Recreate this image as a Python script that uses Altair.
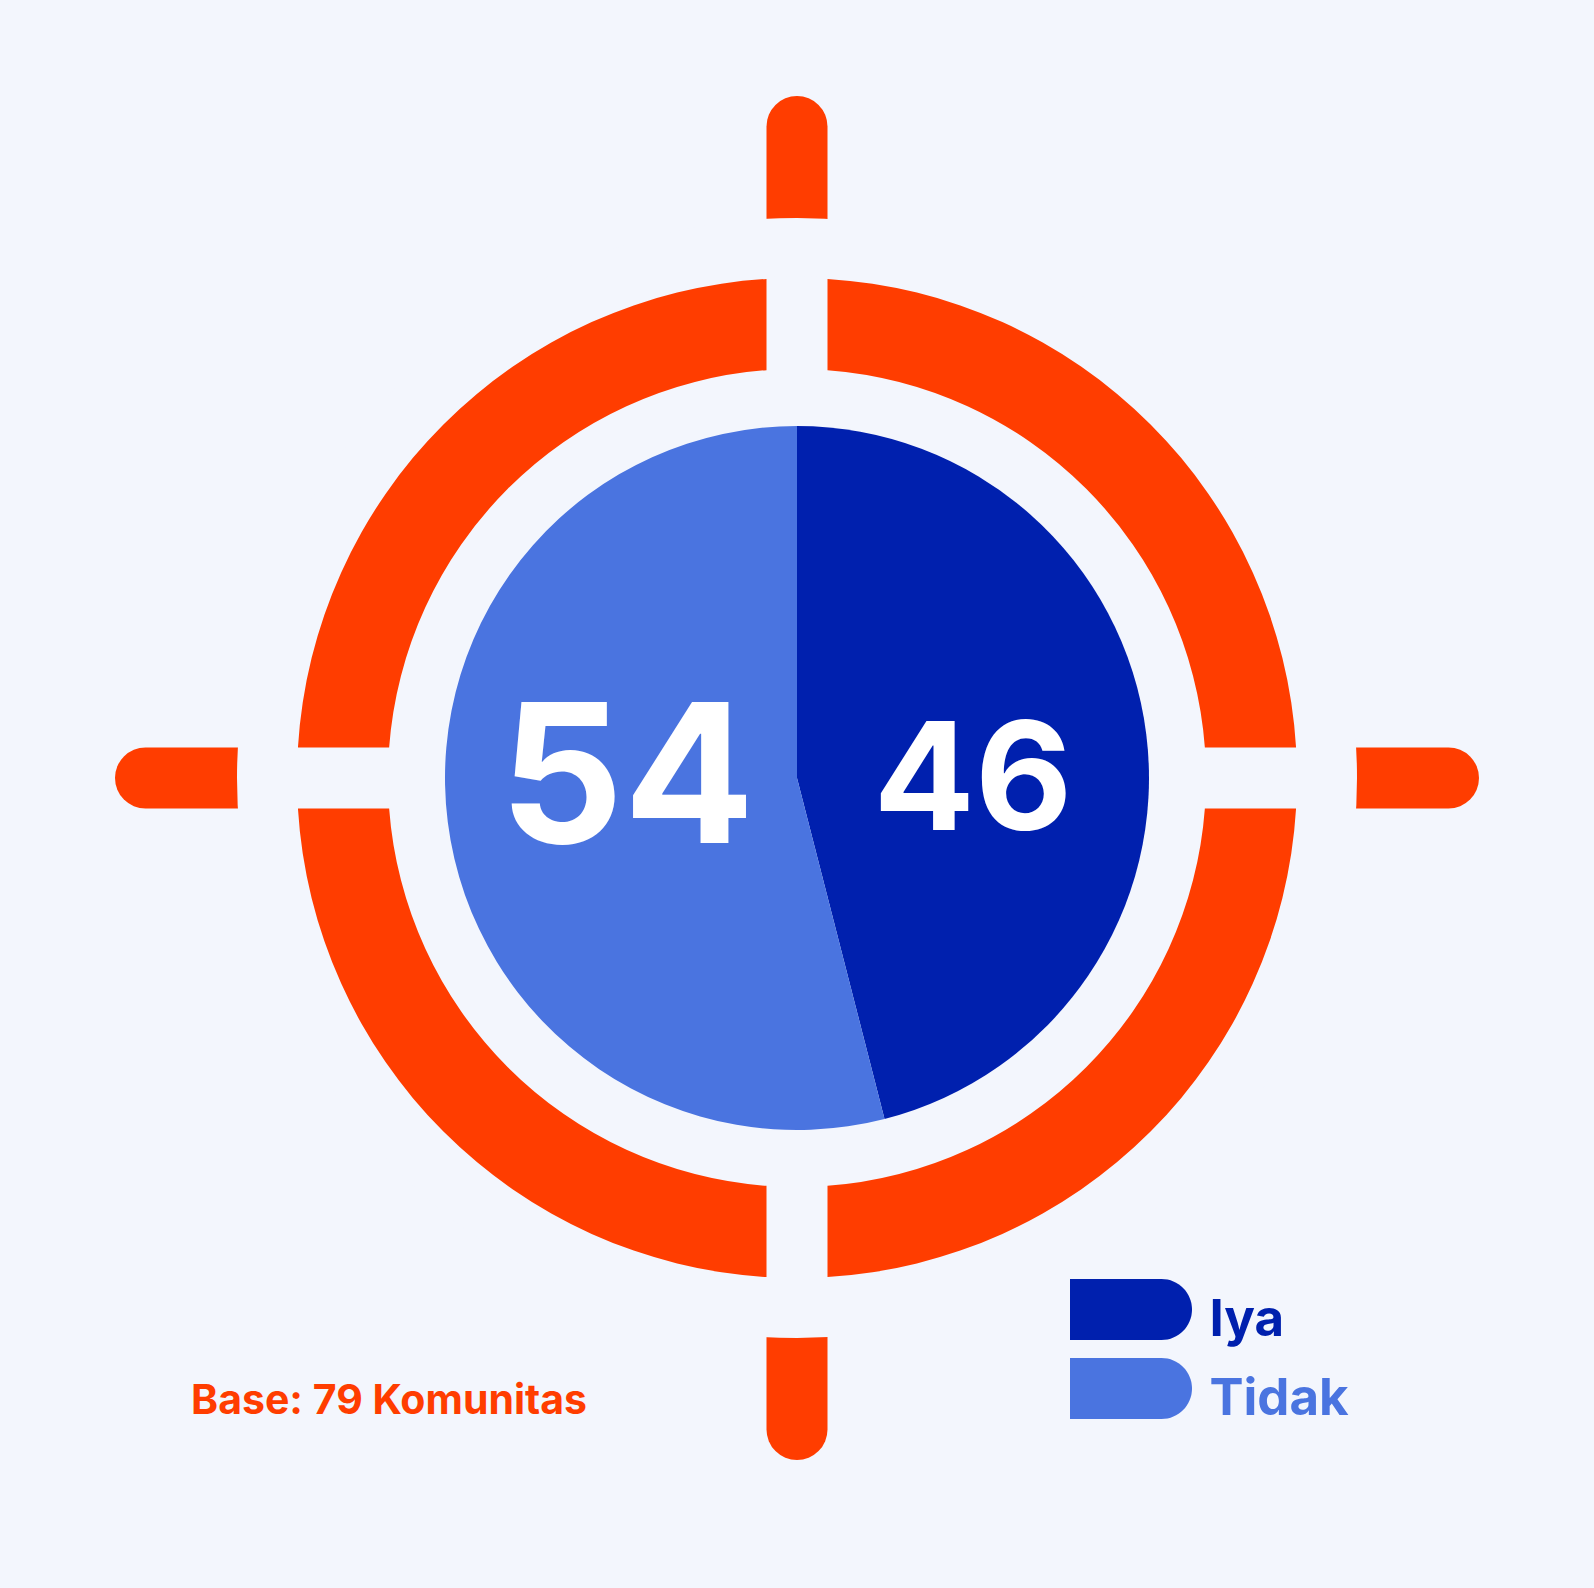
import math
import altair as alt
import pandas as pd

# ---- data ----
categories = ["Iya", "Tidak"]
values = [46, 54]
colors = ["#0020AE", "#4A74E0"]
base_note = ["Base: 79 Komunitas"]
ring_segments = ["NE", "SE", "SW", "NW"]
ring_shares = [25, 25, 25, 25]
tick_angles = [0, 90, 180, 270]

# ---- style / geometry ----
ORANGE = "#FF3D00"
BG = "#F3F6FD"
W, H = 1594, 1588
CX, CY = 797, 778
PIE_R = 352
RING_IN, RING_OUT = 409, 500
GAP = 61
TICK_IN, TICK_OUT = 560, 682
pad_radius = math.sqrt(RING_IN ** 2 + RING_OUT ** 2)
pad_angle = 2 * math.asin(GAP / 2 / pad_radius)
FONT = "Inter"

pie_df = pd.DataFrame({"cat": categories, "value": values})
ring_df = pd.DataFrame({"seg": ring_segments, "share": ring_shares})
tick_df = pd.DataFrame({"angle": tick_angles})
mask_df = pd.DataFrame({"k": [1]})
note_df = pd.DataFrame({"t": base_note})

# crosshair ticks (round outer cap; inner end trimmed by a background ring)
r_start = TICK_IN - 20
r_end = TICK_OUT - GAP / 2
ticks = alt.Chart(tick_df).transform_calculate(
    rad="datum.angle * PI / 180",
).transform_calculate(
    x1=f"{CX} + {r_start} * sin(datum.rad)",
    y1=f"{CY} - {r_start} * cos(datum.rad)",
    x2=f"{CX} + {r_end} * sin(datum.rad)",
    y2=f"{CY} - {r_end} * cos(datum.rad)",
).mark_rule(color=ORANGE, strokeWidth=GAP, strokeCap="round").encode(
    x=alt.X("x1:Q", scale=None),
    y=alt.Y("y1:Q", scale=None),
    x2="x2:Q",
    y2="y2:Q",
)

mask = alt.Chart(mask_df).mark_arc(
    innerRadius=RING_OUT + 2, outerRadius=TICK_IN, color=BG, x=CX, y=CY
).encode(theta=alt.value(0), theta2=alt.value(2 * math.pi))

ring = alt.Chart(ring_df).mark_arc(
    innerRadius=RING_IN, outerRadius=RING_OUT, padAngle=pad_angle,
    color=ORANGE, x=CX, y=CY
).encode(theta=alt.Theta("share:Q", stack=True))

# legend symbol: flat left end, round right end, drawn slightly above row centre
legend = alt.Legend(
    title=None, orient="none", legendX=1100.5, legendY=1290,
    symbolType="M -2 -1.36 H 1 A 1 1 0 0 1 1 0.64 H -2 Z",
    symbolSize=3721, symbolStrokeWidth=0, symbolOpacity=1,
    labelFont=FONT, labelFontWeight="bold", labelFontSize=51,
    labelOffset=48, rowPadding=12, labelLimit=0,
    labelColor={"expr": f"datum.label == '{categories[0]}' ? '{colors[0]}' : '{colors[1]}'"},
)

pie = alt.Chart(pie_df).mark_arc(outerRadius=PIE_R, x=CX, y=CY).encode(
    theta=alt.Theta("value:Q", stack=True),
    order=alt.Order("cat:N"),
    color=alt.Color("cat:N", scale=alt.Scale(domain=categories, range=colors), legend=legend),
)

labels = alt.Chart(pie_df).transform_calculate(
    lx=f"{CX} + (datum.cat == '{categories[0]}' ? 176 : -170)"
).mark_text(font=FONT, fontWeight="bold", color="white", baseline="middle", align="center").encode(
    x=alt.X("lx:Q", scale=None),
    y=alt.value(CY + 7),
    text="value:Q",
    size=alt.Size("value:Q", scale=alt.Scale(domain=[46, 54], range=[150, 194]), legend=None),
)

note = alt.Chart(note_df).mark_text(
    align="left", baseline="alphabetic", font=FONT, fontWeight="bold",
    fontSize=41, color=ORANGE
).encode(x=alt.value(191), y=alt.value(1414), text="t:N")

chart = alt.layer(ticks, mask, ring, pie, labels, note).properties(
    width=W, height=H, padding=0, autosize="none", background=BG
).configure_view(stroke=None)

chart.save("out.html", embed_options={"renderer": "svg", "actions": False})
